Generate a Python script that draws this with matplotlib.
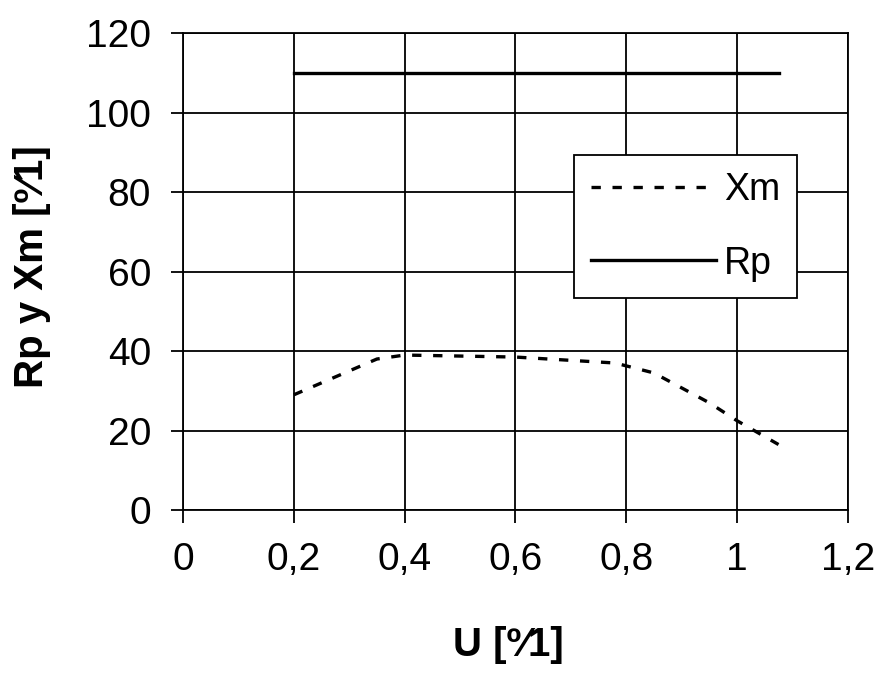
import numpy as np
import matplotlib
matplotlib.use('Agg')
import matplotlib.pyplot as plt
from matplotlib.ticker import FuncFormatter

plt.rcParams['font.family'] = ['Liberation Sans', 'DejaVu Sans']

# data
u_xm = [0.2, 0.35, 0.4, 0.6, 0.78, 0.85, 0.95, 1.0, 1.075]
xm = [29, 38, 39, 38.5, 37, 34.5, 27, 22.5, 16.5]
u_rp = [0.2, 1.075]
rp = [110, 110]

x_ticks = [0, 0.2, 0.4, 0.6, 0.8, 1.0, 1.2]
y_ticks = [0, 20, 40, 60, 80, 100, 120]

fig = plt.figure(figsize=(8.84, 6.73), dpi=100)
ax = fig.add_axes([0.207, 0.242, 0.752, 0.709])

ax.plot(u_xm, xm, color='black', lw=2.4, linestyle=(0, (2.8, 3.5)), label='Xm')
ax.plot(u_rp, rp, color='black', lw=2.4, label='Rp')

ax.set_xlim(0, 1.2)
ax.set_ylim(0, 120)
ax.set_xticks(x_ticks)
ax.set_yticks(y_ticks)
ax.xaxis.set_major_formatter(FuncFormatter(lambda v, p: ('%g' % round(v, 1)).replace('.', ',')))
ax.tick_params(labelsize=28, direction='out', length=9, width=1.3, pad=14)
ax.grid(True, color='black', lw=1.3)
ax.set_axisbelow(True)
for s in ax.spines.values():
    s.set_linewidth(1.3)

ax.set_xlabel('U [º⁄1]', fontsize=29, fontweight='bold', va='center')
ax.xaxis.set_label_coords(0.49, -0.283)
ax.set_ylabel('Rp y Xm [º⁄1]', fontsize=29, fontweight='bold', va='center')
ax.yaxis.set_label_coords(-0.227, 0.51)

leg = ax.legend(loc='upper left', bbox_to_anchor=(0.588, 0.744), fontsize=27,
                frameon=True, fancybox=False, edgecolor='black', framealpha=1,
                handlelength=3.35, handletextpad=0.2, labelspacing=1.0,
                borderpad=0.45, borderaxespad=0, markerfirst=True)
leg.get_frame().set_linewidth(1.3)

fig.savefig('out.png', dpi=100)
